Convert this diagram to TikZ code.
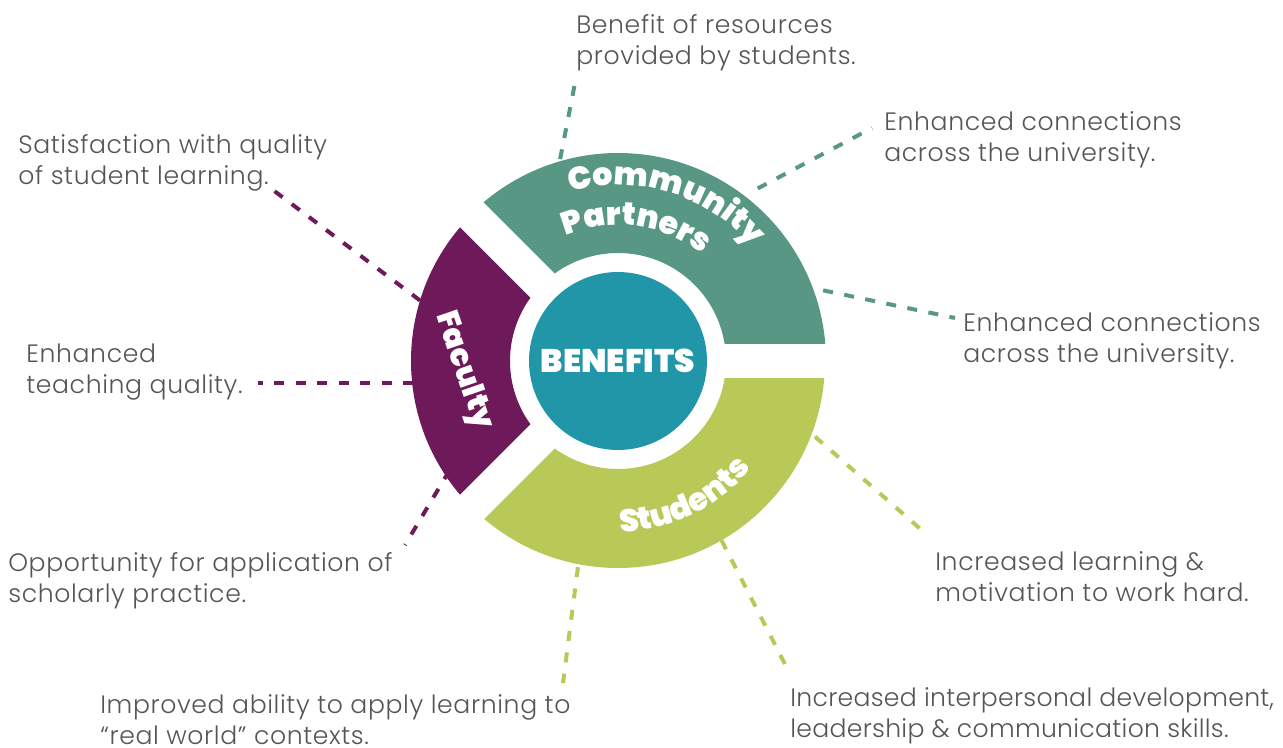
\documentclass[tikz,border=0pt]{standalone}
\usepackage{fontspec}
\setmainfont{Poppins Light}[LetterSpace=2.5]
\newfontfamily\heavyfont{Poppins Black}
\usetikzlibrary{decorations.text}

\definecolor{cpgreen}{HTML}{589783}
\definecolor{facpurple}{HTML}{6E195A}
\definecolor{stulime}{HTML}{B8C957}
\definecolor{bentea}{HTML}{2096A8}
\definecolor{txtgray}{HTML}{555555}

\begin{document}
\begin{tikzpicture}[
    x=0.02cm, y=0.02cm,
    lbl/.style={font=\fontsize{14.3}{17.6}\selectfont, text=txtgray, align=left, inner sep=0pt, anchor=north west},
    link/.style={line width=0.08cm, dash pattern=on 0.2cm off 0.23cm},
    gap/.style={white, line width=0.68cm},
    arclbl/.style={decorate, decoration={text along path, text align=center, text color=white}}
]
    \useasboundingbox (-618,-386) rectangle (665,361);

    % Texts around the ring
    \node[lbl] (res)   at (-42,347)   {Benefit of resources\\provided by students.};
    \node[lbl] (conA)  at (266,250)   {Enhanced connections\\across the university.};
    \node[lbl] (conB)  at (345,49)    {Enhanced connections\\across the university.};
    \node[lbl] (satis) at (-600,227)  {Satisfaction with quality\\of student learning.};
    \node[lbl] (teach) at (-592,17)   {Enhanced\\teaching quality.};
    \node[lbl] (opp)   at (-610,-191) {Opportunity for application of\\scholarly practice.};
    \node[lbl] (learn) at (317,-190)  {Increased learning \&\\motivation to work hard.};
    \node[lbl] (apply) at (-518,-333) {Improved ability to apply learning to\\“real world” contexts.};
    \node[lbl, font=\fontsize{14.3}{17.6}\selectfont\addfontfeatures{LetterSpace=1.2}] (inter) at (172,-326)
        {Increased interpersonal development,\\leadership \& communication skills.};

    % Ends of the dashed links
    \coordinate (res-a)   at (-42,283);   \coordinate (res-b)   at (106:210);
    \coordinate (conA-a)  at (254,233);   \coordinate (conA-b)  at (51:222);
    \coordinate (conB-a)  at (337,43);    \coordinate (conB-b)  at (19:217);
    \coordinate (satis-a) at (-345,171);  \coordinate (satis-b) at (163:207);
    \coordinate (teach-a) at (-360,-22);  \coordinate (teach-b) at (-205,-22);
    \coordinate (opp-a)   at (-213,-184); \coordinate (opp-b)   at (213:201);
    \coordinate (learn-a) at (307,-172);  \coordinate (learn-b) at (-21:211);
    \coordinate (apply-a) at (-55,-322);  \coordinate (apply-b) at (-101:210);
    \coordinate (inter-a) at (170,-309);  \coordinate (inter-b) at (-60:207);

    \draw[link, cpgreen]   (res-b) -- (res-a);
    \draw[link, cpgreen]   (conA-b) -- (conA-a);
    \draw[link, cpgreen]   (conB-b) -- (conB-a);
    \draw[link, facpurple] (satis-b) -- (satis-a);
    \draw[link, facpurple] (teach-b) -- (teach-a);
    \draw[link, facpurple] (opp-b) -- (opp-a);
    \draw[link, stulime]   (learn-b) -- (learn-a);
    \draw[link, stulime]   (apply-b) -- (apply-a);
    \draw[link, stulime]   (inter-b) -- (inter-a);

    % Ring segments
    \fill[cpgreen] (0:208) arc[start angle=0, end angle=135, radius=208]
        -- (135:108) arc[start angle=135, end angle=0, radius=108] -- cycle;
    \fill[facpurple] (135:207) arc[start angle=135, end angle=225, radius=207]
        -- (225:108) arc[start angle=225, end angle=135, radius=108] -- cycle;
    \fill[stulime] (225:207) arc[start angle=225, end angle=360, radius=207]
        -- (0:108) arc[start angle=360, end angle=225, radius=108] -- cycle;

    % Gaps between the segments
    \draw[gap] (0,0) -- (0:220);
    \draw[gap] (0,0) -- (135:220);
    \draw[gap] (0,0) -- (225:220);

    % Centre
    \node[circle, fill=bentea, minimum size=3.56cm, inner sep=0pt, text=white,
          font=\heavyfont\fontsize{18.6}{19}\selectfont] (ben) at (0,0) {BENEFITS};

    % Segment names
    \path[arclbl, decoration={text={|\heavyfont\fontsize{18}{18}\selectfont|Community}}]
        (118:176) arc[start angle=118, end angle=28, radius=176];
    \path[arclbl, decoration={text={|\heavyfont\fontsize{18}{18}\selectfont|Partners}}]
        (127:136) arc[start angle=127, end angle=37, radius=136];
    \path[arclbl, decoration={text={|\heavyfont\fontsize{18}{18}\selectfont|Students}}]
        (-109:171) arc[start angle=-109, end angle=-19, radius=171];
    \node[text=white, rotate=-71, font=\heavyfont\fontsize{17.5}{18}\selectfont] (fac) at (-155,-10) {Faculty};

\end{tikzpicture}
\end{document}
